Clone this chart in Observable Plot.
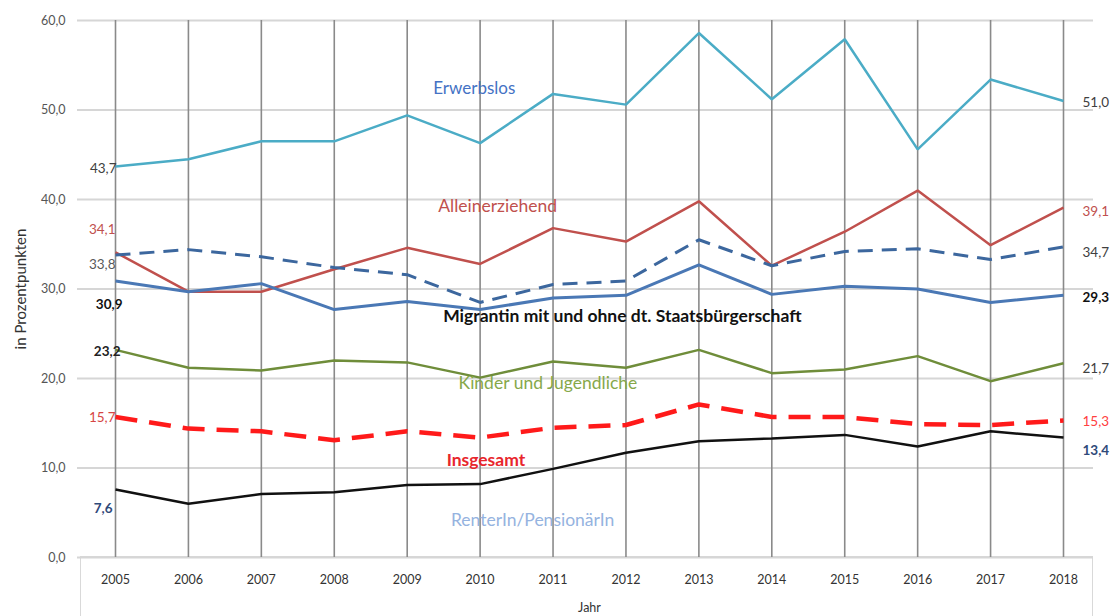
<!DOCTYPE html>
<html><head><meta charset="utf-8">
<script src="https://cdn.jsdelivr.net/npm/d3@7"></script>
<script src="https://cdn.jsdelivr.net/npm/@observablehq/plot@0.6"></script>
<style>
body{margin:0;background:#fff;}
#chart{position:relative;width:1115px;height:616px;overflow:hidden;}
#box{position:absolute;left:80px;top:556px;width:1013px;height:80px;border:1px solid #d9d9d9;box-sizing:border-box;}
#chart svg{position:absolute;left:0;top:0;}
</style></head><body>
<div id="chart"><div id="box"></div></div>
<script>
// ---- data ----
const years = [2005,2006,2007,2008,2009,2010,2011,2012,2013,2014,2015,2016,2017,2018];
const erwerbslos      = [43.7,44.5,46.5,46.5,49.4,46.3,51.8,50.6,58.6,51.2,57.9,45.6,53.4,51.0];
const alleinerziehend = [34.1,29.7,29.7,32.2,34.6,32.8,36.8,35.3,39.8,32.6,36.4,41.0,34.9,39.1];
const migrantDashed   = [33.8,34.4,33.6,32.4,31.6,28.5,30.5,30.9,35.5,32.6,34.2,34.5,33.3,34.7];
const migrantin       = [30.9,29.7,30.6,27.7,28.6,27.7,29.0,29.3,32.7,29.4,30.3,30.0,28.5,29.3];
const kinder          = [23.2,21.2,20.9,22.0,21.8,20.1,21.9,21.2,23.2,20.6,21.0,22.5,19.7,21.7];
const insgesamt       = [15.7,14.4,14.1,13.1,14.1,13.4,14.5,14.8,17.1,15.7,15.7,14.9,14.8,15.3];
const rentner         = [7.6,6.0,7.1,7.3,8.1,8.2,9.9,11.7,13.0,13.3,13.7,12.4,14.1,13.4];
const yTicks = [0,10,20,30,40,50,60];
const seriesNames = ["Erwerbslos","Alleinerziehend","","Migrantin mit und ohne dt. Staatsbürgerschaft","Kinder und Jugendliche","Insgesamt","RenterIn/PensionärIn"];
// annotation anchor points (year, value) for series names
const nameYears  = [2009.92,2010.24,null,2011.95,2010.93,2010.08,2010.72];
const nameValues = [52.4,39.2,null,26.9,19.5,10.9,4.1];

// ---- styles ----
const allValues = [erwerbslos,alleinerziehend,migrantDashed,migrantin,kinder,insgesamt,rentner];
const styles = [
  {stroke:"#4bacc6", w:2.5, dash:null, name:{fill:"#4472c4",weight:"normal",size:17},
   start:{fill:"#404040",weight:"normal",dx:1,dy:2}, end:{fill:"#404040",weight:"normal",dy:2}},
  {stroke:"#c0504d", w:2.5, dash:null, name:{fill:"#c0504d",weight:"normal",size:17.5},
   start:{fill:"#c0504d",weight:"normal",dx:0,dy:-23}, end:{fill:"#c0504d",weight:"normal",dy:4}},
  {stroke:"#3c679e", w:3, dash:"15,9", name:null,
   start:{fill:"#595959",weight:"normal",dx:0,dy:10}, end:{fill:"#404040",weight:"normal",dy:6}},
  {stroke:"#4a78b5", w:3, dash:null, name:{fill:"#111",weight:"bold",size:17.5},
   start:{fill:"#111",weight:"bold",dx:7,dy:24}, end:{fill:"#111",weight:"bold",dy:2}},
  {stroke:"#6f8d3a", w:2.5, dash:null, name:{fill:"#86a84a",weight:"normal",size:17.5},
   start:{fill:"#222",weight:"bold",dx:5,dy:2}, end:{fill:"#404040",weight:"normal",dy:5}},
  {stroke:"#ff1a1a", w:4.5, dash:"22,12", name:{fill:"#e8262d",weight:"bold",size:17.5},
   start:{fill:"#d64545",weight:"normal",dx:0,dy:1}, end:{fill:"#ff4040",weight:"normal",dy:1}},
  {stroke:"#111", w:2.5, dash:null, name:{fill:"#95b3e0",weight:"normal",size:17.5},
   start:{fill:"#2f4a7a",weight:"bold",dx:-3,dy:19}, end:{fill:"#2f4a7a",weight:"bold",dy:13}}
];

const de = d3.formatLocale({decimal:",",thousands:".",grouping:[3],currency:["","€"]});
const fmt = de.format(".1f");

const marks = [];
marks.push(Plot.ruleY(yTicks, {stroke:"#d6d6d6", strokeWidth:2, insetLeft:-38, insetRight:-30}));
marks.push(Plot.ruleX(years, {stroke:"#8a8a8a", strokeWidth:1.6}));

allValues.forEach((vals, i) => {
  const s = styles[i];
  const rows = years.map((yr, j) => ({year: yr, value: vals[j]}));
  marks.push(Plot.line(rows, {x:"year", y:"value", stroke:s.stroke, strokeWidth:s.w,
    strokeDasharray:s.dash || undefined, strokeLinejoin:"miter", strokeLinecap:"butt"}));
  const first = [rows[0]], last = [rows[rows.length-1]];
  marks.push(Plot.text(first, {x:"year", y:"value", text:d => fmt(d.value), textAnchor:"end",
    dx:s.start.dx, dy:s.start.dy, fill:s.start.fill, fontWeight:s.start.weight, fontSize:13.5}));
  marks.push(Plot.text(last, {x:"year", y:"value", text:d => fmt(d.value), textAnchor:"start",
    dx:19, dy:s.end.dy, fill:s.end.fill, fontWeight:s.end.weight, fontSize:13.5}));
  if (s.name) {
    marks.push(Plot.text([{x:nameYears[i], y:nameValues[i], t:seriesNames[i]}],
      {x:"x", y:"y", text:"t", fill:s.name.fill, fontWeight:s.name.weight, fontSize:s.name.size}));
  }
});

marks.push(Plot.axisY({ticks:yTicks, tickFormat:fmt, tickSize:0, tickPadding:50, fontSize:12.5,
  color:"#555", label:null}));
marks.push(Plot.axisY({ticks:[], fontSize:15, color:"#333",
  label:"in Prozentpunkten", labelAnchor:"center", labelArrow:"none", labelOffset:100}));
marks.push(Plot.axisX({ticks:years, tickFormat:"d", tickSize:0, tickPadding:18, fontSize:12.5,
  color:"#333", label:"Jahr", labelAnchor:"center", labelArrow:"none", labelOffset:54}));

const chart = Plot.plot({
  width:1115, height:616,
  marginTop:20, marginBottom:59, marginLeft:115, marginRight:52,
  x:{domain:[2005,2018]},
  y:{domain:[0,60]},
  style:{fontFamily:"Lato, 'Open Sans', sans-serif", background:"transparent", overflow:"visible"},
  marks
});
document.getElementById("chart").appendChild(chart);
</script>
</body></html>
